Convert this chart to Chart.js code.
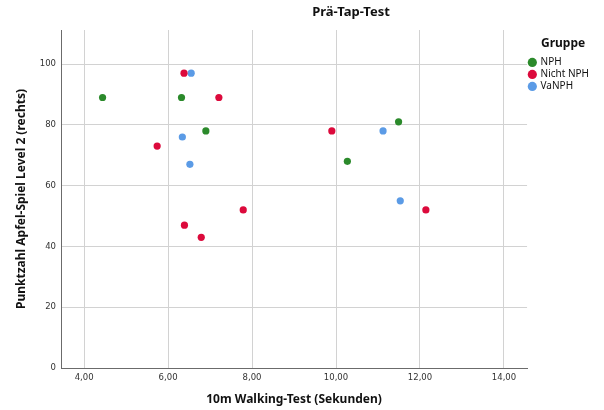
<!DOCTYPE html>
<html lang="de">
<head>
<meta charset="utf-8">
<title>Prä-Tap-Test</title>
<script src="https://cdn.jsdelivr.net/npm/chart.js@4/dist/chart.umd.min.js"></script>
<style>
  html, body { margin: 0; padding: 0; background: #ffffff; }
  #wrap { width: 604px; height: 410px; position: relative; }
  canvas { display: block; }
</style>
</head>
<body>
<div id="wrap"><canvas id="chart" width="604" height="410"></canvas></div>
<script>
// Gehzeit (10m Walking-Test, Sekunden) und Punktzahl je Gruppe
const groups = ['NPH', 'Nicht NPH', 'VaNPH'];
const groupColors = ['#2b8a2b', '#dc0a3c', '#5b9be6'];

const nphWalk   = [4.44, 6.32, 6.90, 10.27, 11.49];
const nphScore  = [89, 89, 78, 68, 81];

const nichtWalk  = [6.38, 7.21, 5.74, 9.90, 12.14, 7.79, 6.39, 6.79];
const nichtScore = [97, 89, 73, 78, 52, 52, 47, 43];

const vaWalk   = [6.55, 6.34, 6.52, 11.12, 11.53];
const vaScore  = [97, 76, 67, 78, 55];

const xTickValues = [4, 6, 8, 10, 12, 14];
const yTickValues = [0, 20, 40, 60, 80, 100];

const chartTitle = 'Prä-Tap-Test';
const xTitle = '10m Walking-Test (Sekunden)';
const yTitle = 'Punktzahl Apfel-Spiel Level 2 (rechts)';
const legendTitle = 'Gruppe';

const toPoints = (xs, ys) => xs.map((x, i) => ({ x: x, y: ys[i] }));
const seriesX = [nphWalk, nichtWalk, vaWalk];
const seriesY = [nphScore, nichtScore, vaScore];

const datasets = groups.map((name, i) => ({
  label: name,
  data: toPoints(seriesX[i], seriesY[i]),
  backgroundColor: groupColors[i],
  borderColor: groupColors[i],
  borderWidth: 0,
  pointRadius: 3.6,
  pointHoverRadius: 3.6,
  pointStyle: 'circle'
}));

const tickFont = { family: '"DejaVu Sans", sans-serif', size: 8.5 };
const titleFont = { family: '"Noto Sans", sans-serif', size: 12, weight: 'bold' };

// Diagrammtitel oberhalb der Zeichenfläche
const headerPlugin = {
  id: 'header',
  afterDraw(chart) {
    const ctx = chart.ctx;
    ctx.save();
    ctx.font = 'bold 13px "Noto Sans", sans-serif';
    ctx.fillStyle = '#111';
    ctx.textAlign = 'center';
    ctx.textBaseline = 'middle';
    ctx.fillText(chartTitle, 351, 12);
    ctx.restore();
  }
};

new Chart(document.getElementById('chart'), {
  type: 'scatter',
  data: { datasets: datasets },
  plugins: [headerPlugin],
  options: {
    responsive: false,
    animation: false,
    events: [],
    layout: { padding: { top: 30, right: 5, bottom: 0, left: 0 } },
    plugins: {
      tooltip: { enabled: false },
      title: { display: false },
      legend: {
        display: true,
        position: 'right',
        align: 'start',
        title: {
          display: true,
          text: legendTitle,
          color: '#111',
          font: { family: '"Noto Sans", sans-serif', size: 12, weight: 'bold' },
          padding: { top: 8, bottom: 3 }
        },
        labels: {
          usePointStyle: true,
          boxWidth: 6.5,
          boxHeight: 6.5,
          padding: 2,
          color: '#111',
          font: { family: '"Noto Sans", sans-serif', size: 10 }
        }
      }
    },
    scales: {
      x: {
        type: 'linear',
        min: 3.45,
        max: 14.55,
        afterBuildTicks(scale) { scale.ticks = xTickValues.map(v => ({ value: v })); },
        afterFit(scale) { scale.height = 42; },
        ticks: {
          font: tickFont,
          color: '#333',
          padding: 5,
          callback: v => v.toFixed(2).replace('.', ',')
        },
        grid: { color: '#d2d2d2', lineWidth: 1, drawTicks: false },
        border: { display: true, color: '#6b6b6b', width: 1 },
        title: {
          display: true,
          text: xTitle,
          color: '#111',
          font: titleFont,
          padding: { top: 0, bottom: 3 }
        }
      },
      y: {
        type: 'linear',
        min: 0,
        max: 111.2,
        afterBuildTicks(scale) { scale.ticks = yTickValues.map(v => ({ value: v })); },
        afterFit(scale) { scale.width = 61; },
        ticks: {
          font: tickFont,
          color: '#333',
          padding: 5,
          callback: v => String(v)
        },
        grid: { color: '#d2d2d2', lineWidth: 1, drawTicks: false },
        border: { display: true, color: '#6b6b6b', width: 1 },
        title: {
          display: true,
          text: yTitle,
          color: '#111',
          font: titleFont,
          padding: { top: 14, bottom: 0 }
        }
      }
    }
  }
});
</script>
</body>
</html>
